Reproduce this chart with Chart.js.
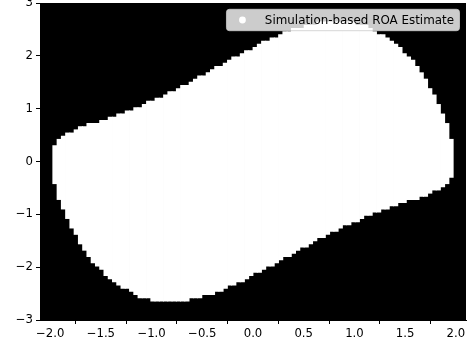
<!DOCTYPE html>
<html>
<head>
<meta charset="utf-8">
<script src="https://cdn.jsdelivr.net/npm/chart.js@4.4.1/dist/chart.umd.min.js"></script>
<style>
    html, body { margin: 0; padding: 0; background: #fff; }
    canvas { display: block; }
</style>
</head>
<body>
<canvas id="roaChart" width="469" height="347"></canvas>
<script>
// grid column centres (x) that belong to the estimated region
const colX = [
    -1.953, -1.911, -1.869, -1.827, -1.785, -1.743, -1.701, -1.659, -1.617, -1.575,
    -1.533, -1.491, -1.449, -1.407, -1.365, -1.323, -1.281, -1.239, -1.197, -1.155,
    -1.113, -1.071, -1.029, -0.987, -0.945, -0.903, -0.861, -0.819, -0.777, -0.735,
    -0.693, -0.651, -0.609, -0.567, -0.525, -0.483, -0.441, -0.399, -0.357, -0.315,
    -0.273, -0.231, -0.189, -0.147, -0.105, -0.063, -0.021, 0.021, 0.063, 0.105,
    0.147, 0.189, 0.231, 0.273, 0.315, 0.357, 0.399, 0.441, 0.483, 0.525,
    0.567, 0.609, 0.651, 0.693, 0.735, 0.777, 0.819, 0.861, 0.903, 0.945,
    0.987, 1.029, 1.071, 1.113, 1.155, 1.197, 1.239, 1.281, 1.323, 1.365,
    1.407, 1.449, 1.491, 1.533, 1.575, 1.617, 1.659, 1.701, 1.743, 1.785,
    1.827, 1.869, 1.911, 1.953
];

// upper edge of the white region in each column
const roaHigh = [
    0.30, 0.42, 0.48, 0.54, 0.54, 0.60, 0.66, 0.66, 0.72, 0.72,
    0.72, 0.78, 0.78, 0.84, 0.84, 0.90, 0.90, 0.96, 0.96, 1.02,
    1.02, 1.08, 1.14, 1.14, 1.20, 1.20, 1.26, 1.32, 1.32, 1.38,
    1.44, 1.44, 1.50, 1.56, 1.62, 1.62, 1.68, 1.74, 1.80, 1.80,
    1.86, 1.92, 1.98, 1.98, 2.04, 2.10, 2.10, 2.16, 2.22, 2.28,
    2.28, 2.34, 2.34, 2.40, 2.46, 2.46, 2.52, 2.52, 2.52, 2.58,
    2.58, 2.58, 2.64, 2.64, 2.64, 2.64, 2.64, 2.64, 2.64, 2.64,
    2.64, 2.58, 2.58, 2.58, 2.52, 2.46, 2.40, 2.40, 2.34, 2.28,
    2.22, 2.16, 2.04, 1.98, 1.92, 1.80, 1.68, 1.56, 1.38, 1.26,
    1.08, 0.90, 0.72, 0.42
];

// lower edge of the white region in each column
const roaLow = [
    -0.42, -0.72, -0.90, -1.08, -1.26, -1.38, -1.56, -1.68, -1.80, -1.92,
    -1.98, -2.04, -2.16, -2.22, -2.28, -2.34, -2.40, -2.40, -2.46, -2.52,
    -2.58, -2.58, -2.58, -2.64, -2.64, -2.64, -2.64, -2.64, -2.64, -2.64,
    -2.64, -2.64, -2.58, -2.58, -2.58, -2.52, -2.52, -2.52, -2.46, -2.46,
    -2.40, -2.34, -2.34, -2.28, -2.28, -2.22, -2.16, -2.10, -2.10, -2.04,
    -1.98, -1.98, -1.92, -1.86, -1.80, -1.80, -1.74, -1.68, -1.62, -1.62,
    -1.56, -1.50, -1.44, -1.44, -1.38, -1.32, -1.32, -1.26, -1.20, -1.20,
    -1.14, -1.14, -1.08, -1.02, -1.02, -0.96, -0.96, -0.90, -0.90, -0.84,
    -0.84, -0.78, -0.78, -0.72, -0.72, -0.72, -0.66, -0.66, -0.60, -0.54,
    -0.54, -0.48, -0.42, -0.30
];

const xTicks = [-2.0, -1.5, -1.0, -0.5, 0.0, 0.5, 1.0, 1.5, 2.0];
const yTicks = [-3, -2, -1, 0, 1, 2, 3];
const legendLabel = 'Simulation-based ROA Estimate';

const FONT = '"DejaVu Sans", "Liberation Sans", sans-serif';
Chart.defaults.font.family = FONT;
Chart.defaults.color = '#000';

function minusSign(text) {
    return String(text).replace('-', '\u2212');
}

// black plot background, like the image behind it
const blackArea = {
    id: 'blackArea',
    beforeDraw(chart) {
        const { ctx, chartArea: a } = chart;
        ctx.save();
        ctx.fillStyle = '#000';
        ctx.fillRect(a.left, a.top, a.right - a.left, a.bottom - a.top);
        ctx.restore();
    }
};

// legend box in the upper right corner, drawn over the data
const legendBox = {
    id: 'legendBox',
    afterDatasetsDraw(chart) {
        const { ctx, chartArea: a } = chart;
        ctx.save();
        ctx.font = '11.9px ' + FONT;
        const textW = ctx.measureText(legendLabel).width;
        const right = a.right - 6.5;
        const top = a.top + 6.3;
        const h = 21.4;
        const textX = right - 5.5 - textW;
        const dotX = textX - 22.4;
        const left = dotX - 16;
        const r = 3;

        ctx.beginPath();
        ctx.moveTo(left + r, top);
        ctx.arcTo(right, top, right, top + h, r);
        ctx.arcTo(right, top + h, left, top + h, r);
        ctx.arcTo(left, top + h, left, top, r);
        ctx.arcTo(left, top, right, top, r);
        ctx.closePath();
        ctx.fillStyle = 'rgba(255,255,255,0.8)';
        ctx.fill();
        ctx.lineWidth = 1;
        ctx.strokeStyle = 'rgba(204,204,204,0.8)';
        ctx.stroke();

        ctx.beginPath();
        ctx.arc(dotX, top + h / 2, 3.4, 0, Math.PI * 2);
        ctx.fillStyle = '#fff';
        ctx.fill();

        ctx.fillStyle = '#000';
        ctx.textBaseline = 'middle';
        ctx.fillText(legendLabel, textX, top + h / 2 + 0.5);
        ctx.restore();
    }
};

const points = colX.map((x, i) => ({ x: x, y: [roaLow[i], roaHigh[i]] }));

new Chart(document.getElementById('roaChart'), {
    type: 'bar',
    data: {
        datasets: [{
            label: legendLabel,
            data: points,
            backgroundColor: '#fff',
            borderWidth: 0,
            barPercentage: 1,
            categoryPercentage: 1,
            inflateAmount: 0.4
        }]
    },
    options: {
        responsive: false,
        animation: false,
        events: [],
        devicePixelRatio: 1,
        layout: { padding: { top: 3, right: 3, left: 0, bottom: 0 } },
        plugins: {
            legend: { display: false },
            tooltip: { enabled: false }
        },
        scales: {
            x: {
                type: 'linear',
                min: -2.1,
                max: 2.1,
                offset: false,
                afterBuildTicks: scale => { scale.ticks = xTicks.map(v => ({ value: v })); },
                afterFit: scale => {
                    scale.height = 27;
                    scale.paddingLeft = 0;
                    scale.paddingRight = 0;
                },
                ticks: {
                    font: { size: 11.7 },
                    color: '#000',
                    padding: 3,
                    maxRotation: 0,
                    callback: v => minusSign(v.toFixed(1))
                },
                grid: { drawOnChartArea: false, drawTicks: true, tickLength: 4, color: '#000', lineWidth: 1 },
                border: { display: true, color: '#000', width: 1 }
            },
            y: {
                type: 'linear',
                min: -3,
                max: 3,
                afterBuildTicks: scale => { scale.ticks = yTicks.map(v => ({ value: v })); },
                afterFit: scale => {
                    scale.width = 40;
                    scale.paddingTop = 0;
                    scale.paddingBottom = 0;
                },
                ticks: {
                    font: { size: 11.7 },
                    color: '#000',
                    padding: 3,
                    callback: v => minusSign(v)
                },
                grid: { drawOnChartArea: false, drawTicks: true, tickLength: 4, color: '#000', lineWidth: 1 },
                border: { display: true, color: '#000', width: 1 }
            }
        }
    },
    plugins: [blackArea, legendBox]
});
</script>
</body>
</html>
